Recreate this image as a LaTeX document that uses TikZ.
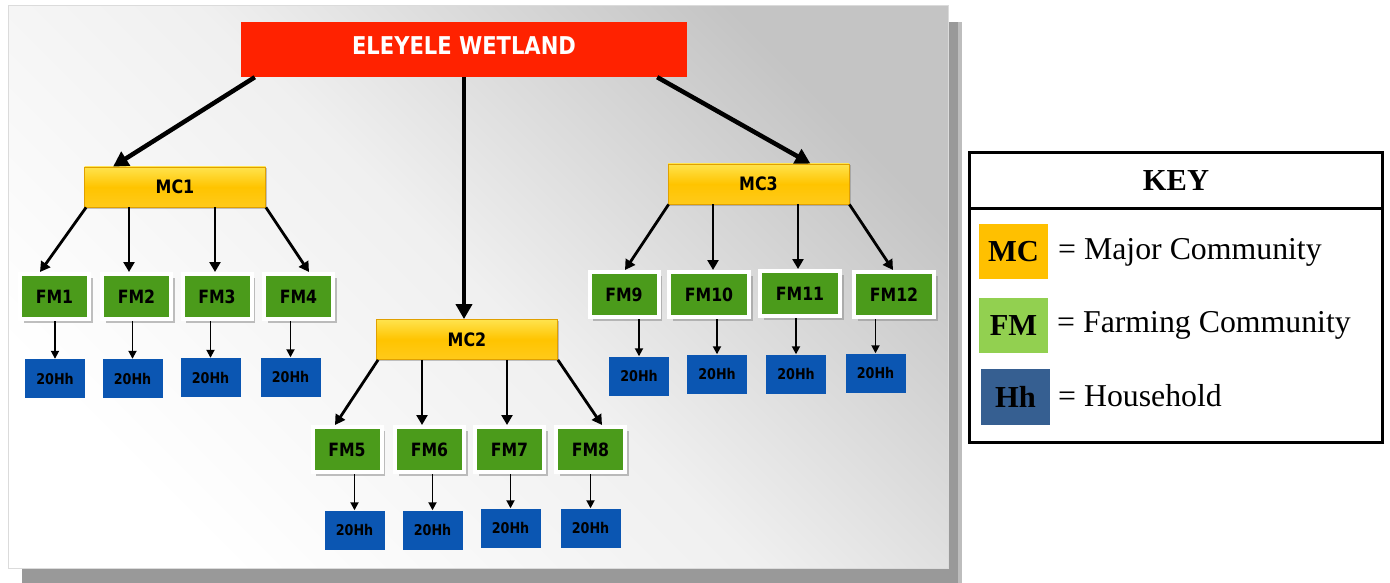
\documentclass[tikz,border=0pt]{standalone}
\usepackage{fontspec}
\setmainfont{Liberation Serif}
\newfontfamily\chartfont[FakeStretch=0.86]{DejaVu Sans}
\usetikzlibrary{arrows.meta,shadows}

\definecolor{titlered}{HTML}{FF2200}
\definecolor{goldtop}{HTML}{FFE34D}
\definecolor{goldmid}{HTML}{FFC400}
\definecolor{goldbot}{HTML}{FFCA1A}
\definecolor{goldedge}{HTML}{E0A000}
\definecolor{fmgreen}{HTML}{4B9B1B}
\definecolor{hhblue}{HTML}{0B56B2}
\definecolor{keygold}{HTML}{FFC000}
\definecolor{keygreen}{HTML}{92D050}
\definecolor{keyblue}{HTML}{365F91}

\begin{document}
\begin{tikzpicture}[x=1pt,y=-1pt,
  titlebox/.style={fill=titlered, minimum width=446pt, minimum height=55pt,
    inner sep=0pt, text=white, font=\chartfont\bfseries\fontsize{24.5}{24.5}\selectfont},
  mcbox/.style={top color=goldtop, bottom color=goldbot, middle color=goldmid,
    draw=goldedge, line width=0.8pt, minimum width=181pt, minimum height=40pt,
    inner sep=0pt,
    drop shadow={shadow xshift=1.5pt, shadow yshift=-1.5pt, fill=black!50, opacity=0.45},
    font=\chartfont\bfseries\fontsize{18.5}{18.5}\selectfont},
  fmbox/.style={fill=fmgreen, draw=white, line width=4pt, minimum width=69pt,
    minimum height=45pt, inner sep=0pt,
    drop shadow={shadow xshift=3.5pt, shadow yshift=-3.5pt, fill=black!45, opacity=0.55},
    font=\chartfont\bfseries\fontsize{18.3}{18.3}\selectfont},
  fmwide/.style={fmbox, minimum width=80pt},
  hhbox/.style={fill=hhblue, minimum width=60pt, minimum height=39pt, inner sep=0pt,
    font=\chartfont\bfseries\fontsize{14.8}{14.8}\selectfont},
  bigarrow/.style={line width=4.5pt, -{Triangle[length=15pt,width=16pt]}},
  midarrow/.style={line width=2.8pt, -{Triangle[length=10pt,width=11pt]}},
  smallarrow/.style={line width=1.8pt, -{Triangle[length=8pt,width=8pt]}},
  keyframe/.style={draw, line width=3pt, minimum width=413pt, inner sep=0pt,
    font=\bfseries\fontsize{30.5}{30.5}\selectfont},
  swatch/.style={minimum width=69pt, minimum height=55pt, inner sep=0pt,
    font=\bfseries\fontsize{30.5}{30.5}\selectfont},
  keytext/.style={inner sep=0pt, anchor=base west, font=\fontsize{31.8}{31.8}\selectfont}]

\useasboundingbox (0,0) rectangle (1390,583);

% panel with its drop shadow
\fill[black!26] (22,22) rectangle (962,583);
\fill[black!40] (22,22) rectangle (958,583);
\shade[top color=black!23, bottom color=white, middle color=black!6, shading angle=-45]
  (8,6) rectangle (948,568);
\draw[black!14, line width=1pt] (8,6) rectangle (948,568);

% root
\node[titlebox] (title) at (464,49.5) {\raisebox{7.5pt}{ELEYELE WETLAND}};

% major communities
\node[mcbox] (mc1) at (175,187) {MC1};
\node[mcbox] (mc2) at (467,339.5) {MC2};
\node[mcbox] (mc3) at (758.5,184) {MC3};

% farming communities
\node[fmbox] (fm1) at (54.5,296.5) {FM1};
\node[fmbox] (fm2) at (136.5,296.5) {FM2};
\node[fmbox] (fm3) at (217,296.5) {FM3};
\node[fmbox] (fm4) at (298.5,296.5) {FM4};
\node[fmbox] (fm5) at (347,449.5) {FM5};
\node[fmbox] (fm6) at (429.5,449.5) {FM6};
\node[fmbox] (fm7) at (509.5,449.5) {FM7};
\node[fmbox] (fm8) at (590.5,449.5) {FM8};
\node[fmbox] (fm9) at (624,294.5) {FM9};
\node[fmwide] (fm10) at (709,294.5) {FM10};
\node[fmwide] (fm11) at (800,293.5) {FM11};
\node[fmwide] (fm12) at (894,294.5) {FM12};

% households
\node[hhbox] (hh1) at (55,378.5) {20Hh};
\node[hhbox] (hh2) at (132.5,378.5) {20Hh};
\node[hhbox] (hh3) at (210.5,377.5) {20Hh};
\node[hhbox] (hh4) at (290.5,377) {20Hh};
\node[hhbox] (hh5) at (354.5,530) {20Hh};
\node[hhbox] (hh6) at (432.5,530) {20Hh};
\node[hhbox] (hh7) at (510.5,528) {20Hh};
\node[hhbox] (hh8) at (590.5,528) {20Hh};
\node[hhbox] (hh9) at (639,376) {20Hh};
\node[hhbox] (hh10) at (717,374) {20Hh};
\node[hhbox] (hh11) at (796,374) {20Hh};
\node[hhbox] (hh12) at (875.5,373) {20Hh};

% root to major communities
\draw[bigarrow] ([xshift=14pt]title.south west) -- ([xshift=29pt]mc1.north west);
\draw[bigarrow] (title.south) -- (title.south |- mc2.north);
\draw[bigarrow] ([xshift=-30pt]title.south east) -- ([xshift=-39pt]mc3.north east);

% major to farming communities
\draw[midarrow] ([xshift=2pt]mc1.south west) -- ([xshift=-14.5pt]fm1.north);
\draw[midarrow] ([xshift=-46pt]mc1.south) -- ([xshift=-46pt]mc1.south |- fm2.north);
\draw[midarrow] ([xshift=40pt]mc1.south) -- ([xshift=40pt]mc1.south |- fm3.north);
\draw[midarrow] (mc1.south east) -- ([xshift=10.5pt]fm4.north);

\draw[midarrow] ([xshift=2pt]mc2.south west) -- ([xshift=-12pt]fm5.north);
\draw[midarrow] ([xshift=-45pt]mc2.south) -- ([xshift=-45pt]mc2.south |- fm6.north);
\draw[midarrow] ([xshift=40pt]mc2.south) -- ([xshift=40pt]mc2.south |- fm7.north);
\draw[midarrow] (mc2.south east) -- ([xshift=11.5pt]fm8.north);

\draw[midarrow] ([xshift=1pt]mc3.south west) -- ([xshift=1pt]fm9.north);
\draw[midarrow] ([xshift=-45.5pt]mc3.south) -- ([xshift=-45.5pt]mc3.south |- fm10.north);
\draw[midarrow] ([xshift=39.5pt]mc3.south) -- ([xshift=39.5pt]mc3.south |- fm11.north);
\draw[midarrow] (mc3.south east) -- ([xshift=-1pt]fm12.north);

% farming communities to households
\foreach \i in {1,...,12}
  \draw[smallarrow] (fm\i.south -| hh\i.north) -- (hh\i.north);

% key
\node[keyframe, minimum height=55.5pt] (keyhead) at (1176,180.25) {KEY};
\node[keyframe, minimum height=234.5pt] (keybody) at (1176,325.25) {};
\node[swatch, fill=keygold] (mcsw) at (1013.5,251.5) {MC};
\node[swatch, fill=keygreen] (fmsw) at (1013.5,325.5) {FM};
\node[swatch, fill=keyblue, minimum height=56pt] (hhsw) at (1015.5,397) {Hh};
\node[keytext] (mcdesc) at (1058,259) {= Major Community};
\node[keytext] (fmdesc) at (1057,332) {= Farming Community};
\node[keytext] (hhdesc) at (1058,406) {= Household};

\end{tikzpicture}
\end{document}
